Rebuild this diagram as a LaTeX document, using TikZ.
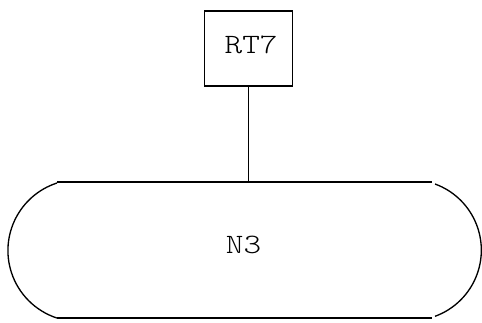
\documentclass[tikz,border=0pt]{standalone}
\usepackage{fontspec}
\newfontfamily\lbltt{Latin Modern Mono Light}[FakeStretch=1.2]
\begin{document}
\begin{tikzpicture}[x=0.75pt,y=0.75pt,
  lbl/.style={font=\lbltt\fontsize{21}{25}\selectfont, inner sep=0pt},
  routerbox/.style={draw, line width=1pt, minimum width=66pt, minimum height=56.25pt, inner sep=0pt, text depth=6pt},
  edge/.style={line width=1pt}]
\useasboundingbox (0,0) rectangle (482,322);
% RT7 box (pixel coords, Y = 322 - y)
\node[routerbox, lbl] (rt7) at (248.5,273.5) {\kern4pt RT7};
% network N3
\coordinate (ntop) at (248.5,140);
\draw[edge] (57,140) -- (432,140);
\draw[edge] (57,4) -- (432,4);
\draw[edge] (57,139) arc[start angle=108, end angle=252, radius=71];
\draw[edge] (435,138) arc[start angle=70, end angle=-70, radius=70.4];
\node[lbl] (n3) at (243.5,77.5) {N3};
\draw[edge] (rt7.south) -- (ntop);
\end{tikzpicture}
\end{document}
